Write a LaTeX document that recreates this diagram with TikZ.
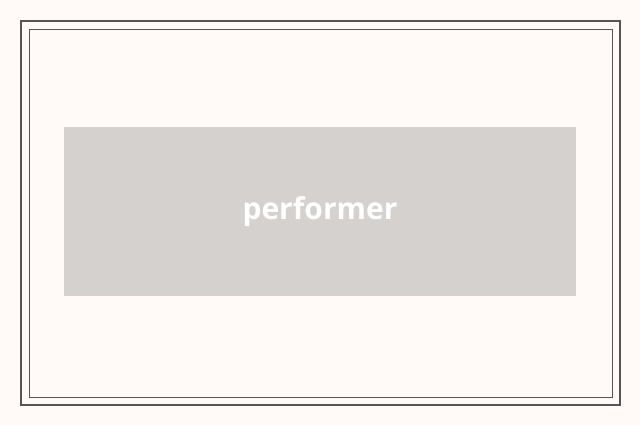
\documentclass[tikz,border=0pt]{standalone}
\usepackage{fontspec}
\setmainfont{Open Sans}
\definecolor{paper}{HTML}{FFFAF7}
\definecolor{frame}{HTML}{555555}
\definecolor{boxgray}{HTML}{D4D1CE}
\begin{document}
\begin{tikzpicture}[x=1pt, y=1pt,
    label/.style = {fill = boxgray, minimum width = 512pt, minimum height = 169pt, inner sep = 0pt, text = white, font = \bfseries\fontsize{30}{36}\selectfont}]

    \fill[paper] (0, 0) rectangle (640, 425);
    \useasboundingbox (0, 0) rectangle (640, 425);
    \draw[frame, line width = 1.5pt] (21, 20) rectangle (620, 404);
    \draw[frame, line width = 0.7pt] (29, 28) rectangle (612, 396);

    \node[label] (performer) at (320, 213.5) {performer};
\end{tikzpicture}
\end{document}
